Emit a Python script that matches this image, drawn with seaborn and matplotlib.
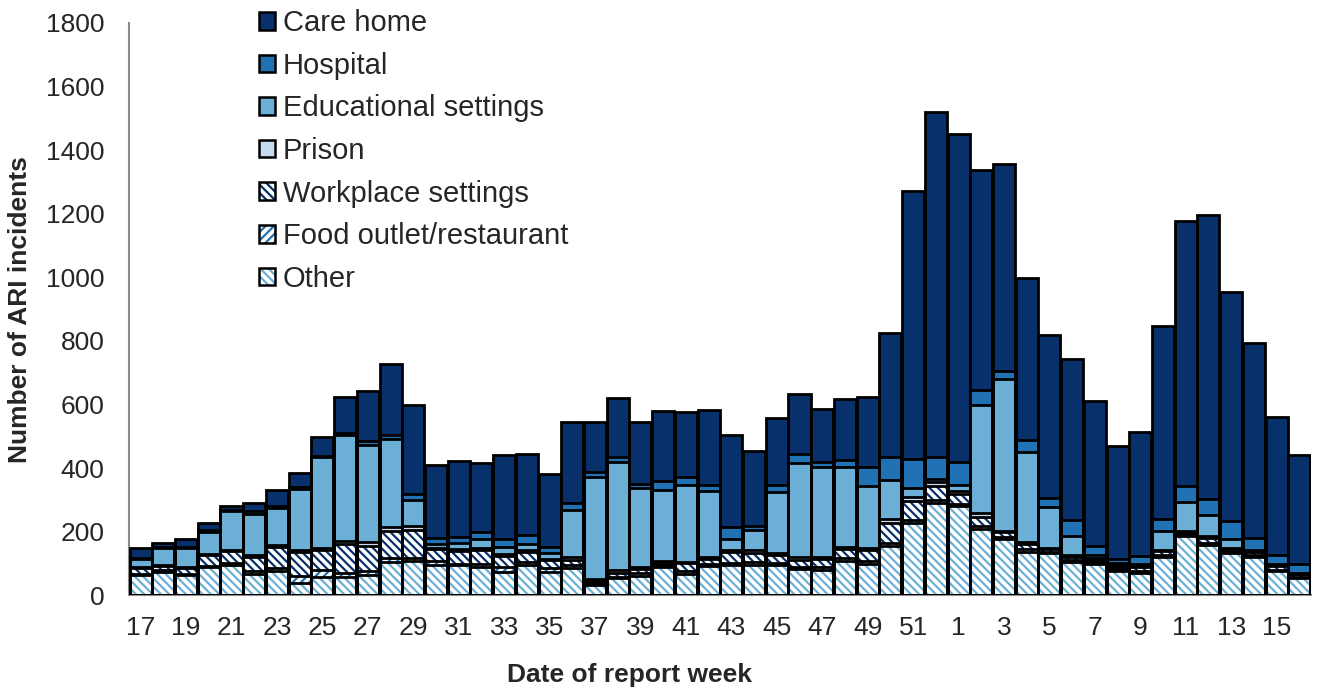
# ARI incidents by setting, stacked weekly bars

import numpy as np
import pandas as pd
import seaborn as sns
import matplotlib.pyplot as plt
from matplotlib.patches import Patch

# Report weeks (17-52 then 1-16)
weeks = [str(w) for w in list(range(17, 53)) + list(range(1, 17))]

# Values per setting
other = [65, 75, 65, 90, 97, 69, 76, 40, 57, 57, 65, 104, 107, 95, 95, 90, 75, 96,
         75, 85, 33, 54, 61, 90, 68, 92, 95, 97, 96, 82, 80, 108, 99, 156, 229, 292,
         280, 208, 176, 137, 132, 106, 100, 78, 72, 120, 187, 160, 134, 120, 77, 55]
food = [3, 5, 3, 3, 5, 8, 10, 22, 22, 15, 12, 15, 12, 12, 5, 10, 15, 10,
        10, 10, 5, 5, 10, 5, 8, 6, 8, 9, 7, 9, 10, 9, 8, 8, 8, 8,
        8, 10, 8, 8, 5, 5, 5, 5, 5, 6, 5, 6, 5, 6, 3, 3]
workplace = [18, 12, 18, 35, 38, 45, 65, 75, 65, 90, 80, 85, 88, 38, 40, 42, 33, 32,
             25, 18, 8, 12, 12, 8, 25, 16, 35, 28, 25, 22, 25, 28, 35, 63, 60, 45,
             32, 30, 16, 18, 8, 10, 8, 8, 12, 14, 8, 14, 8, 12, 12, 8]
prison = [2, 3, 3, 3, 4, 5, 8, 5, 6, 8, 10, 10, 12, 5, 5, 8, 6, 5,
          6, 8, 5, 8, 5, 6, 5, 8, 5, 8, 6, 8, 5, 8, 8, 12, 12, 12,
          8, 12, 4, 5, 3, 5, 4, 4, 4, 3, 3, 8, 3, 3, 3, 3]
educational = [26, 55, 60, 70, 120, 130, 115, 193, 284, 335, 305, 278, 80, 12, 20, 28, 23, 19,
               17, 148, 322, 340, 250, 222, 240, 205, 33, 63, 190, 296, 285, 250, 195, 125, 30, 8,
               18, 338, 475, 282, 131, 62, 10, 8, 6, 60, 90, 64, 28, 3, 3, 3]
hospital = [3, 3, 3, 5, 6, 8, 8, 5, 5, 5, 12, 12, 20, 18, 20, 20, 27, 28,
            20, 22, 15, 16, 12, 28, 25, 19, 38, 13, 23, 27, 15, 24, 58, 70, 90, 70,
            72, 48, 28, 40, 26, 50, 30, 12, 25, 38, 50, 50, 55, 38, 30, 28]
care_home = [31, 12, 27, 22, 12, 25, 48, 45, 58, 115, 158, 222, 280, 230, 237, 217, 261, 256,
             230, 255, 158, 185, 195, 221, 205, 238, 290, 236, 210, 188, 165, 192, 220, 390, 842, 1083,
             1032, 692, 650, 508, 513, 504, 455, 356, 390, 605, 835, 893, 721, 610, 434, 340]

settings = ["Other", "Food outlet/restaurant", "Workplace settings", "Prison",
            "Educational settings", "Hospital", "Care home"]
series = [other, food, workplace, prison, educational, hospital, care_home]

face_colors = ["white", "white", "white", "#C6DBEF", "#6BAED6", "#2171B5", "#08306B"]
hatch_colors = ["#6BAED6", "#2171B5", "#08306B", None, None, None, None]
hatches = ["\\\\\\\\", "////", "\\\\\\\\", None, None, None, None]

sns.set_style("white")
plt.rcParams['font.family'] = ['Liberation Sans', 'DejaVu Sans']
plt.rcParams['hatch.linewidth'] = 1.6

fig = plt.figure(figsize=(13.19, 6.9), dpi=100)
ax = fig.add_axes([0.098, 0.137, 0.8957, 0.830])

cum = np.cumsum(np.array(series), axis=0)
bar_w = 0.97

# fills: tallest layer first, lower layers drawn on top of it
for k in range(len(series) - 1, -1, -1):
    df = pd.DataFrame({"week": weeks, "value": cum[k]})
    n0 = len(ax.patches)
    sns.barplot(data=df, x="week", y="value", order=weeks, color=face_colors[k],
                saturation=1, width=bar_w, errorbar=None, ax=ax)
    for p in ax.patches[n0:]:
        p.set_facecolor(face_colors[k])
        p.set_linewidth(0)
        if hatches[k]:
            p.set_edgecolor(hatch_colors[k])
            p.set_hatch(hatches[k])
        else:
            p.set_edgecolor("none")

# black outlines for every segment
for k in range(len(series)):
    ax.bar(range(len(weeks)), cum[k], width=bar_w, fill=False,
           edgecolor="black", linewidth=2.0, zorder=3)

ax.set_xlim(-0.5, len(weeks) - 0.5)
ax.set_ylim(0, 1800)
ax.set_yticks(range(0, 1801, 200))

ax.set_xticks(range(0, len(weeks), 2))
ax.set_xticklabels(weeks[::2])
ax.set_xticks(np.arange(-0.5, len(weeks), 2), minor=True)
ax.tick_params(axis="x", which="major", length=0, pad=15, labelsize=19)
ax.tick_params(axis="x", which="minor", length=7, width=1.3, color="#8c8c8c")
ax.tick_params(axis="y", length=7, width=1.3, color="#8c8c8c", pad=11, labelsize=19)

for side in ["top", "right"]:
    ax.spines[side].set_visible(False)
for side in ["left", "bottom"]:
    ax.spines[side].set_color("#8c8c8c")
    ax.spines[side].set_linewidth(1.5)

ax.set_xlabel("Date of report week", fontsize=19, fontweight="bold")
ax.set_ylabel("Number of ARI incidents", fontsize=19, fontweight="bold")
ax.xaxis.set_label_coords(0.4238, -0.118)
ax.yaxis.set_label_coords(-0.082, 0.5)

# legend: top entry is Care home
handles = []
for k in range(len(series) - 1, -1, -1):
    if hatches[k]:
        h = (Patch(facecolor="white", hatch=hatches[k], edgecolor=hatch_colors[k], linewidth=0),
             Patch(facecolor="none", edgecolor="black", linewidth=1.8))
    else:
        h = Patch(facecolor=face_colors[k], edgecolor="black", linewidth=1.8)
    handles.append(h)
fig.legend(handles, settings[::-1], loc="upper left", bbox_to_anchor=(0.1964, 0.9866),
           frameon=False, fontsize=21, handlelength=0.55, handleheight=0.55,
           handletextpad=0.27, labelspacing=0.5, borderpad=0, borderaxespad=0)

plt.savefig("out.png", dpi=100)
